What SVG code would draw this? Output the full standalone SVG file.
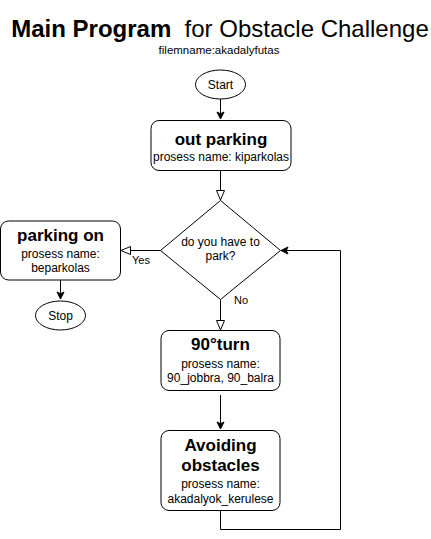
<svg xmlns="http://www.w3.org/2000/svg" width="431" height="539" viewBox="0 0 431 539">
<defs>
<style>
text{font-family:"Liberation Sans",Arial,Helvetica,sans-serif;fill:#000;text-anchor:middle}
.t{font-size:12px}
.h{font-size:17px;font-weight:bold}
.s{font-size:11px}
.box{fill:#fff;stroke:#000;stroke-width:1}
.ln{fill:none;stroke:#000;stroke-width:1}
</style>
<marker id="fill" markerWidth="10" markerHeight="10" refX="8" refY="4" orient="auto" markerUnits="userSpaceOnUse">
<path d="M1,0.5 L8,4 L1,7.5 L2.8,4 Z" fill="#000" stroke="#000" stroke-width="1"/>
</marker>
<marker id="open" markerWidth="12" markerHeight="12" refX="10" refY="5" orient="auto" markerUnits="userSpaceOnUse">
<path d="M0.5,1 L10,5 L0.5,9 Z" fill="#fff" stroke="#000" stroke-width="1"/>
</marker>
</defs>
<rect width="431" height="539" fill="#fff"/>
<g id="title">
<text x="220" y="37" style="font-size:24px"><tspan font-weight="bold">Main Program</tspan><tspan xml:space="preserve">  for Obstacle Challenge</tspan></text>
<text x="219" y="54" style="font-size:11.5px">filemname:akadalyfutas</text>
</g>
<g id="connectors">
<path class="ln" d="M220.5,99 V119" marker-end="url(#fill)"/>
<path class="ln" d="M220.5,171 V200" marker-end="url(#open)"/>
<path class="ln" d="M161,250.5 H121" marker-end="url(#open)"/>
<text x="141" y="264" class="s">Yes</text>
<path class="ln" d="M60.5,280 V299" marker-end="url(#fill)"/>
<path class="ln" d="M220.5,300 V330" marker-end="url(#open)"/>
<text x="241" y="304" class="s">No</text>
<path class="ln" d="M220.5,395 V429" marker-end="url(#fill)"/>
<path class="ln" d="M220.5,510 V529.5 H340.5 V250.5 H281" marker-end="url(#fill)"/>
</g>
<g id="start">
<ellipse class="box" cx="220.5" cy="84.5" rx="25" ry="14.5"/>
<text x="220.5" y="89" class="t">Start</text>
</g>
<g id="outparking">
<rect class="box" x="151" y="120.5" width="140" height="50" rx="8"/>
<text x="221" y="145" class="h">out parking</text>
<text x="221" y="161" class="t">prosess name: kiparkolas</text>
</g>
<g id="decision">
<path class="box" d="M220.5,200.5 L280.5,250.5 L220.5,299.5 L160.5,250.5 Z"/>
<text x="220.5" y="246" class="t">do you have to</text>
<text x="220.5" y="260" class="t">park?</text>
</g>
<g id="parkingon">
<rect class="box" x="0.5" y="221" width="120" height="59" rx="8"/>
<text x="60.5" y="241" class="h">parking on</text>
<text x="60.5" y="258" class="t">prosess name:</text>
<text x="60.5" y="272" class="t">beparkolas</text>
</g>
<g id="stop">
<ellipse class="box" cx="60.5" cy="315.5" rx="25" ry="14.5"/>
<text x="60.5" y="320" class="t">Stop</text>
</g>
<g id="turn">
<rect class="box" x="161" y="330.5" width="119" height="60" rx="8"/>
<text x="220.5" y="350" class="h">90°turn</text>
<text x="220.5" y="368" class="t">prosess name:</text>
<text x="220.5" y="382" class="t">90_jobbra, 90_balra</text>
</g>
<g id="avoiding">
<rect class="box" x="161" y="430.5" width="119" height="80" rx="8"/>
<text x="220.5" y="451" class="h">Avoiding</text>
<text x="220.5" y="471" class="h">obstacles</text>
<text x="220.5" y="488" class="t">prosess name:</text>
<text x="220.5" y="503" class="t">akadalyok_kerulese</text>
</g>
</svg>
